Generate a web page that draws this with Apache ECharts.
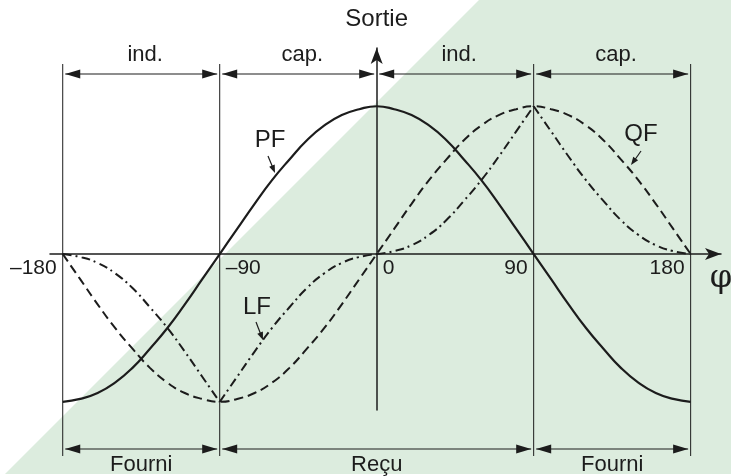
<!DOCTYPE html>
<html>
<head>
<meta charset="utf-8">
<script src="https://cdn.jsdelivr.net/npm/echarts@6/dist/echarts.min.js"></script>
<style>
  html, body { margin: 0; padding: 0; background: #fff; }
  #chart { width: 731px; height: 476px; }
</style>
</head>
<body>
<div id="chart"></div>
<script>
// phase angle φ (deg), 10° steps
const phi = [-180, -170, -160, -150, -140, -130, -120, -110, -100, -90, -80, -70, -60, -50, -40, -30, -20, -10,
  0, 10, 20, 30, 40, 50, 60, 70, 80, 90, 100, 110, 120, 130, 140, 150, 160, 170, 180]

// PF (solid)
const pfValues = [-1, -0.98, -0.94, -0.87, -0.77, -0.64, -0.5, -0.34, -0.17, 0, 0.17, 0.34, 0.5, 0.64, 0.77, 0.87, 0.94, 0.98,
  1, 0.98, 0.94, 0.87, 0.77, 0.64, 0.5, 0.34, 0.17, 0, -0.17, -0.34, -0.5, -0.64, -0.77, -0.87, -0.94, -0.98, -1]

// QF (dashed)
const qfValues = [0, -0.17, -0.34, -0.5, -0.64, -0.77, -0.87, -0.94, -0.98, -1, -0.98, -0.94, -0.87, -0.77, -0.64, -0.5, -0.34, -0.17,
  0, 0.17, 0.34, 0.5, 0.64, 0.77, 0.87, 0.94, 0.98, 1, 0.98, 0.94, 0.87, 0.77, 0.64, 0.5, 0.34, 0.17, 0]

// LF (dash-dot), pointed at ±90
const lfValues = [0, -0.02, -0.06, -0.13, -0.23, -0.36, -0.5, -0.66, -0.83, -1, -0.83, -0.66, -0.5, -0.36, -0.23, -0.13, -0.06, -0.02,
  0, 0.02, 0.06, 0.13, 0.23, 0.36, 0.5, 0.66, 0.83, 1, 0.83, 0.66, 0.5, 0.36, 0.23, 0.13, 0.06, 0.02, 0]

const tickValues = [-180, -90, 0, 90, 180]
const tickLabels = ['–180', '–90', '0', '90', '180']

const guideValues = [-180, -90, 90, 180]
const topSpans = [[-180, -90], [-90, 0], [0, 90], [90, 180]]
const topLabels = ['ind.', 'cap.', 'ind.', 'cap.']
const bottomSpans = [[-180, -90], [-90, 90], [90, 180]]
const bottomLabels = ['Fourni', 'Reçu', 'Fourni']

const ink = '#1c1c1c'
const font = '"Liberation Sans", Arial, sans-serif'

const chart = echarts.init(document.getElementById('chart'), null, { renderer: 'canvas' })

const pairs = (values, from, to) => phi.slice(from, to + 1).map((p, i) => [p, values[from + i]])

// LF has corners at -90 and 90, so each quarter is drawn on its own
const lfSegments = [[0, 9], [9, 18], [18, 27], [27, 36]]

const axisLine = {
  show: true,
  onZero: true,
  symbol: ['none', 'arrow'],
  symbolSize: [9, 16],
  lineStyle: { color: ink, width: 1.5 }
}

chart.setOption({
  backgroundColor: '#fff',
  animation: false,
  grid: { left: 50, right: 10, top: 48, bottom: 66 },
  xAxis: {
    type: 'value', min: -187.3, max: 197.4,
    axisLine, axisTick: { show: false }, axisLabel: { show: false }, splitLine: { show: false }
  },
  yAxis: {
    type: 'value', min: -1.055, max: 1.394,
    axisLine, axisTick: { show: false }, axisLabel: { show: false }, splitLine: { show: false }
  },
  series: [
    {
      type: 'line', name: 'PF', data: pairs(pfValues, 0, 36), smooth: true, symbol: 'none', z: 5,
      lineStyle: { color: ink, width: 2.2 }
    },
    {
      type: 'line', name: 'QF', data: pairs(qfValues, 0, 36), smooth: true, symbol: 'none', z: 5,
      lineStyle: { color: ink, width: 2, type: [9, 5] }
    },
    ...lfSegments.map(([a, b]) => ({
      type: 'line', name: 'LF', data: pairs(lfValues, a, b), smooth: true, symbol: 'none', z: 5,
      lineStyle: { color: ink, width: 2, type: [9, 4, 2, 4] }
    }))
  ]
})

// ---- annotations ----
const px = (x, y) => chart.convertToPixel({ gridIndex: 0 }, [x, y])

function head(tx, ty, fx, fy, len, half) {
  const d = Math.hypot(tx - fx, ty - fy)
  const ux = (tx - fx) / d, uy = (ty - fy) / d
  const bx = tx - ux * len, by = ty - uy * len
  return {
    type: 'polygon', z: 20,
    shape: { points: [[tx, ty], [bx - uy * half, by + ux * half], [bx + uy * half, by - ux * half]] },
    style: { fill: ink }
  }
}

function text(str, x, y, size, align, family) {
  return {
    type: 'text', z: 20,
    style: {
      text: str, x, y, fill: ink,
      fontSize: size, fontFamily: family || font,
      textAlign: align, align, textVerticalAlign: 'middle', verticalAlign: 'middle'
    }
  }
}

function line(x1, y1, x2, y2, w) {
  return { type: 'line', z: 20, shape: { x1, y1, x2, y2 }, style: { stroke: ink, lineWidth: w || 1 } }
}

function dimension(a, b, y) {
  const x1 = px(a, 0)[0] + 2.5, x2 = px(b, 0)[0] - 2.5
  return [line(x1, y, x2, y, 1.2), head(x1, y, x2, y, 15, 4.5), head(x2, y, x1, y, 15, 4.5)]
}

const graphic = []

// green zone
graphic.push({
  type: 'polygon', z: -10,
  shape: { points: [[479, 0], [731, 0], [731, 474], [5, 474]] },
  style: { fill: '#dcecde' }
})

guideValues.forEach(v => {
  const x = px(v, 0)[0]
  graphic.push(line(x, 64, x, 456, 1))
})

topSpans.forEach(([a, b], i) => {
  graphic.push(...dimension(a, b, 74))
  graphic.push(text(topLabels[i], (px(a, 0)[0] + px(b, 0)[0]) / 2 + 4, 55, 22, 'center'))
})

bottomSpans.forEach(([a, b], i) => {
  graphic.push(...dimension(a, b, 449))
  graphic.push(text(bottomLabels[i], (px(a, 0)[0] + px(b, 0)[0]) / 2, 465, 22, 'center'))
})

const y0 = px(0, 0)[1]
tickValues.forEach((v, i) => {
  const x = px(v, 0)[0]
  const left = v === -90 || v === 0
  graphic.push(text(tickLabels[i], left ? x + 6 : x - 6, y0 + 14, 21, left ? 'left' : 'right'))
})

graphic.push(text('Sortie', px(0, 0)[0], 19, 24, 'center'))
graphic.push(text('φ', 721, 279, 32, 'center', '"DejaVu Serif", serif'))

// curve labels with pointers
graphic.push(text('PF', 270, 140, 24, 'center'))
graphic.push(line(268, 156, 273, 168, 1.2), head(275, 173, 268, 156, 8, 3))
graphic.push(text('QF', 641, 134, 24, 'center'))
graphic.push(line(641, 151, 634, 161, 1.2), head(631, 165, 641, 151, 8, 3))
graphic.push(text('LF', 257, 307, 24, 'center'))
graphic.push(line(256, 322, 261, 335, 1.2), head(263, 340, 256, 322, 8, 3))

chart.setOption({ graphic })
</script>
</body>
</html>
